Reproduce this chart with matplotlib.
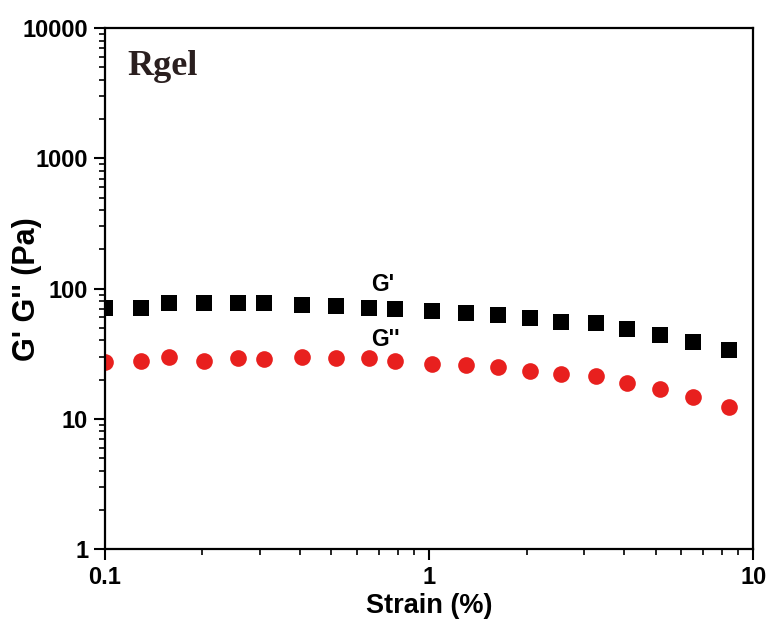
import matplotlib
matplotlib.use("Agg")
import matplotlib.pyplot as plt
from matplotlib.ticker import FixedLocator, LogLocator, NullFormatter

# strain sweep
strain = [0.10, 0.129, 0.158, 0.202, 0.257, 0.310, 0.405, 0.516, 0.653, 0.785,
          1.02, 1.30, 1.63, 2.05, 2.55, 3.27, 4.08, 5.16, 6.53, 8.43]
g_storage = [70.8, 70.8, 77.4, 77.4, 77.4, 77.4, 74.7, 73.4, 70.8, 69.6,
             67.2, 64.8, 62.6, 59.3, 55.3, 54.4, 48.9, 44.0, 38.9, 33.7]
g_loss = [27.3, 27.8, 29.8, 27.8, 29.3, 28.8, 29.8, 29.3, 29.3, 27.8,
          26.3, 25.9, 25.0, 23.3, 22.1, 21.3, 18.8, 16.9, 14.7, 12.3]

x_ticks = [0.1, 1, 10]
x_labels = ["0.1", "1", "10"]
y_ticks = [1, 10, 100, 1000, 10000]
y_labels = ["1", "10", "100", "1000", "10000"]

plt.rcParams["font.family"] = ["Liberation Sans", "DejaVu Sans"]

fig = plt.figure(figsize=(7.71, 6.24), dpi=100)
ax = fig.add_axes([0.136, 0.120, 0.841, 0.835])

ax.plot(strain, g_storage, "s", color="black", markersize=11, markeredgewidth=0)
ax.plot(strain, g_loss, "o", color="#e8201e", markersize=12, markeredgewidth=0)

ax.set_xscale("log")
ax.set_yscale("log")
ax.set_xlim(0.1, 10)
ax.set_ylim(1, 10000)

ax.xaxis.set_major_locator(FixedLocator(x_ticks))
ax.set_xticklabels(x_labels)
ax.yaxis.set_major_locator(FixedLocator(y_ticks))
ax.set_yticklabels(y_labels)
ax.xaxis.set_minor_locator(LogLocator(base=10, subs=range(2, 10)))
ax.yaxis.set_minor_locator(LogLocator(base=10, subs=range(2, 10)))
ax.xaxis.set_minor_formatter(NullFormatter())
ax.yaxis.set_minor_formatter(NullFormatter())

for side in ax.spines.values():
    side.set_linewidth(1.6)
ax.tick_params(which="major", direction="out", length=8, width=1.5,
               labelsize=17, pad=4, top=False, right=False)
ax.tick_params(which="minor", direction="out", length=4.5, width=1.2,
               top=False, right=False)
for lbl in ax.get_xticklabels() + ax.get_yticklabels():
    lbl.set_fontweight("bold")

ax.set_xlabel("Strain (%)", fontsize=19.5, fontweight="bold", labelpad=3)
ax.set_ylabel("G' G'' (Pa)", fontsize=22, fontweight="bold")
ax.yaxis.set_label_coords(-0.097, 0.499)

ax.text(0.034, 0.91, "Rgel", transform=ax.transAxes, fontsize=26,
        fontweight="bold", family="Liberation Serif", color="#2a1f1f", va="baseline")
ax.text(0.411, 0.507, "G'", transform=ax.transAxes, fontsize=16.5, fontweight="bold", va="center")
ax.text(0.411, 0.402, "G''", transform=ax.transAxes, fontsize=16.5, fontweight="bold", va="center")

fig.savefig("out.png", dpi=100)
